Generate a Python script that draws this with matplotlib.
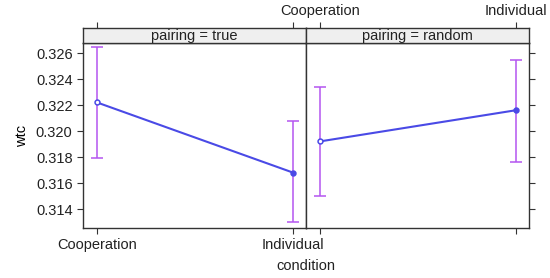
import numpy as np
import matplotlib.pyplot as plt

plt.rcParams['font.family'] = ['Liberation Sans', 'DejaVu Sans']

# Datos
conditions = ['Cooperation', 'Individual']
panels = ['pairing = true', 'pairing = random']
wtc_mean = [[0.3222, 0.3168], [0.3192, 0.3216]]
wtc_lower = [[0.3179, 0.3130], [0.3150, 0.3176]]
wtc_upper = [[0.3265, 0.3208], [0.3234, 0.3255]]
yticks = [0.314, 0.316, 0.318, 0.320, 0.322, 0.324, 0.326]

line_col = '#4a4ae6'
err_col = '#b455f0'
fs = 10.5

W, H = 550, 278
fig = plt.figure(figsize=(W / 100, H / 100), dpi=100)

x0, x1, xm = 83, 529, 306
ytop, ybot, strip_top = 43, 228, 28
xlim = (0.929, 2.066)

for k, (left, right) in enumerate([(x0, xm), (xm, x1)]):
    ax = fig.add_axes([left / W, 1 - ybot / H, (right - left) / W, (ybot - ytop) / H])
    x = np.arange(1, len(conditions) + 1)
    ax.plot(x, wtc_mean[k], color=line_col, lw=1.5, zorder=3)
    for i in range(len(conditions)):
        ax.errorbar(x[i], wtc_mean[k][i],
                    yerr=[[wtc_mean[k][i] - wtc_lower[k][i]], [wtc_upper[k][i] - wtc_mean[k][i]]],
                    fmt='none', ecolor=err_col, elinewidth=1.1, capsize=4, capthick=1.1, zorder=2)
        ax.plot(x[i], wtc_mean[k][i], 'o', ms=3.5, color=line_col,
                mfc='white' if i == 0 else line_col, mew=1.1, zorder=4)
    ax.set_xlim(xlim)
    ax.set_ylim(0.31254, 0.32677)
    ax.set_xticks(x)
    ax.set_yticks(yticks)
    for s in ax.spines.values():
        s.set_color('#333333')
        s.set_linewidth(1.0)
    ax.tick_params(axis='both', direction='out', length=4, color='#333333',
                   labelsize=fs, labelcolor='#222222', top=False, bottom=True)
    if k == 0:
        ax.set_xticklabels(conditions)
        ax.set_yticklabels(['%.3f' % v for v in yticks])
        ax.tick_params(axis='y', left=True, right=False, labelleft=True)
        ax.set_ylabel('wtc', fontsize=fs, labelpad=5)
    else:
        ax.tick_params(axis='x', labelbottom=False)
        ax.tick_params(axis='y', left=False, right=True, labelleft=False, labelright=False)

    # strip con los ticks superiores
    sax = fig.add_axes([left / W, 1 - ytop / H, (right - left) / W, (ytop - strip_top) / H])
    sax.set_facecolor('#efefef')
    sax.set_xlim(xlim)
    sax.set_yticks([])
    sax.set_xticks(x)
    sax.tick_params(axis='x', direction='out', length=4, color='#333333', top=True, bottom=False,
                    labelbottom=False, labeltop=(k == 1), labelsize=fs, labelcolor='#222222')
    if k == 1:
        sax.set_xticklabels(conditions)
    for s in sax.spines.values():
        s.set_color('#333333')
        s.set_linewidth(1.0)
    sax.text(0.5, 0.45, panels[k], ha='center', va='center', fontsize=fs, color='#222222',
             transform=sax.transAxes)

fig.text(xm / W, 1 - 266 / H, 'condition', ha='center', va='center', fontsize=fs, color='#222222')

fig.savefig('out.png', dpi=100)
